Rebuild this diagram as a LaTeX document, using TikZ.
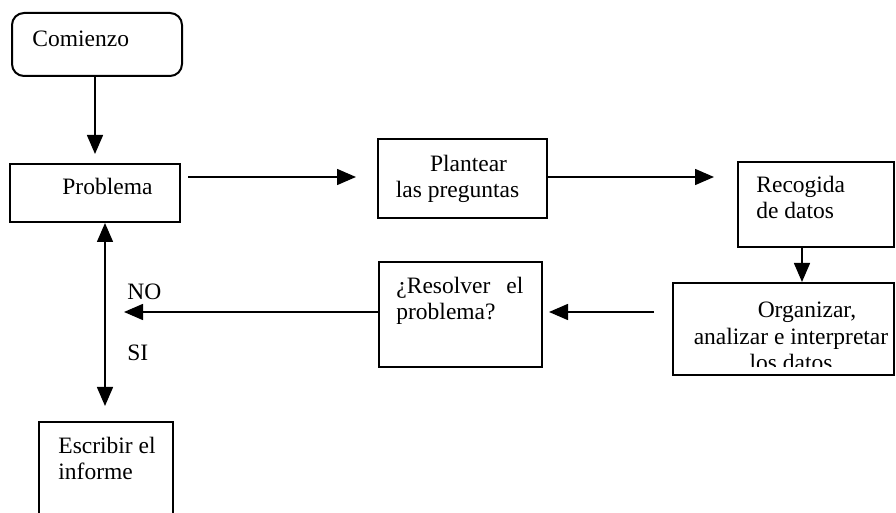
\documentclass[tikz,border=0pt]{standalone}
\usepackage{fontspec}
\setmainfont{Liberation Serif}
\usetikzlibrary{arrows.meta}
\begin{document}
\begin{tikzpicture}[x=0.5pt,y=-0.5pt,
  box/.style={draw, line width=1pt, inner sep=0pt},
  txt/.style={inner sep=0pt, font=\fontsize{11.75}{13.25}\selectfont},
  tip/.tip={Triangle[width=8pt,length=9.5pt]},
  conn/.style={line width=0.75pt, -tip},
  dconn/.style={line width=0.75pt, tip-tip},
]
\clip (0,0) rectangle (896,513);
% boxes
\node[box, rounded corners=6pt, minimum width=85pt, minimum height=31.5pt] (comienzo) at (97,44.5) {};
\node[box, minimum width=85pt, minimum height=29pt] (problema) at (95,193) {};
\node[box, minimum width=84.5pt, minimum height=39.5pt] (plantear) at (462.5,178.5) {};
\node[box, minimum width=78pt, minimum height=42.5pt] (recogida) at (816,204.5) {};
\node[box, minimum width=110.5pt, minimum height=46pt] (organizar) at (783.5,329) {};
\node[box, minimum width=81.5pt, minimum height=52.5pt] (resolver) at (460.5,314.5) {};
\node[box, minimum width=67pt, minimum height=59pt] (escribir) at (106,481) {};
% texts (base anchor = baseline of the last line)
\node[txt, anchor=base west] (comienzo-t) at (32,47) {Comienzo};
\node[txt, anchor=base west] (problema-t) at (62,195) {Problema};
\node[txt, anchor=base, align=center] (plantear-t) at (457.5,198) {\hspace*{11pt}Plantear\\las preguntas};
\node[txt, anchor=base west, align=left] (recogida-t) at (756,219) {Recogida\\de datos};
\begin{scope}
\clip (673,283) rectangle (894,367);
\node[txt, anchor=base, align=center] (organizar-t) at (791,371) {\hspace*{16pt}Organizar,\\analizar e interpretar\\los datos};
\end{scope}
\node[txt, anchor=base west, align=left] (resolver-t) at (396,320) {\makebox[63.5pt][s]{¿Resolver el}\\problema?};
\node[txt, anchor=base west] (no-t) at (127,300) {NO};
\node[txt, anchor=base west] (si-t) at (127,361) {SI};
\node[txt, anchor=base west, align=left] (escribir-t) at (58,480) {Escribir el\\informe};
% helper coordinates
\coordinate (hy) at (0,177);
\coordinate (ry) at (0,312);
\coordinate (vx) at (105,0);
\coordinate (rx) at (802,0);
% connectors
\draw[conn, shorten >=4.5pt] (comienzo.south -| problema.north) -- (problema.north);
\draw[conn, shorten <=3.5pt, shorten >=10.5pt] (problema.east |- hy) -- (plantear.west |- hy);
\draw[conn, shorten >=11.5pt] (plantear.east |- hy) -- (recogida.west |- hy);
\draw[conn] (rx |- recogida.south) -- (rx |- organizar.north);
\draw[conn, shorten <=9pt, shorten >=3pt] (organizar.west |- ry) -- (resolver.east |- ry);
\draw[conn, shorten >=9.5pt] (resolver.west |- ry) -- (vx |- ry);
\draw[dconn, shorten >=7.5pt] (vx |- problema.south) -- (vx |- escribir.north);
\end{tikzpicture}
\end{document}
